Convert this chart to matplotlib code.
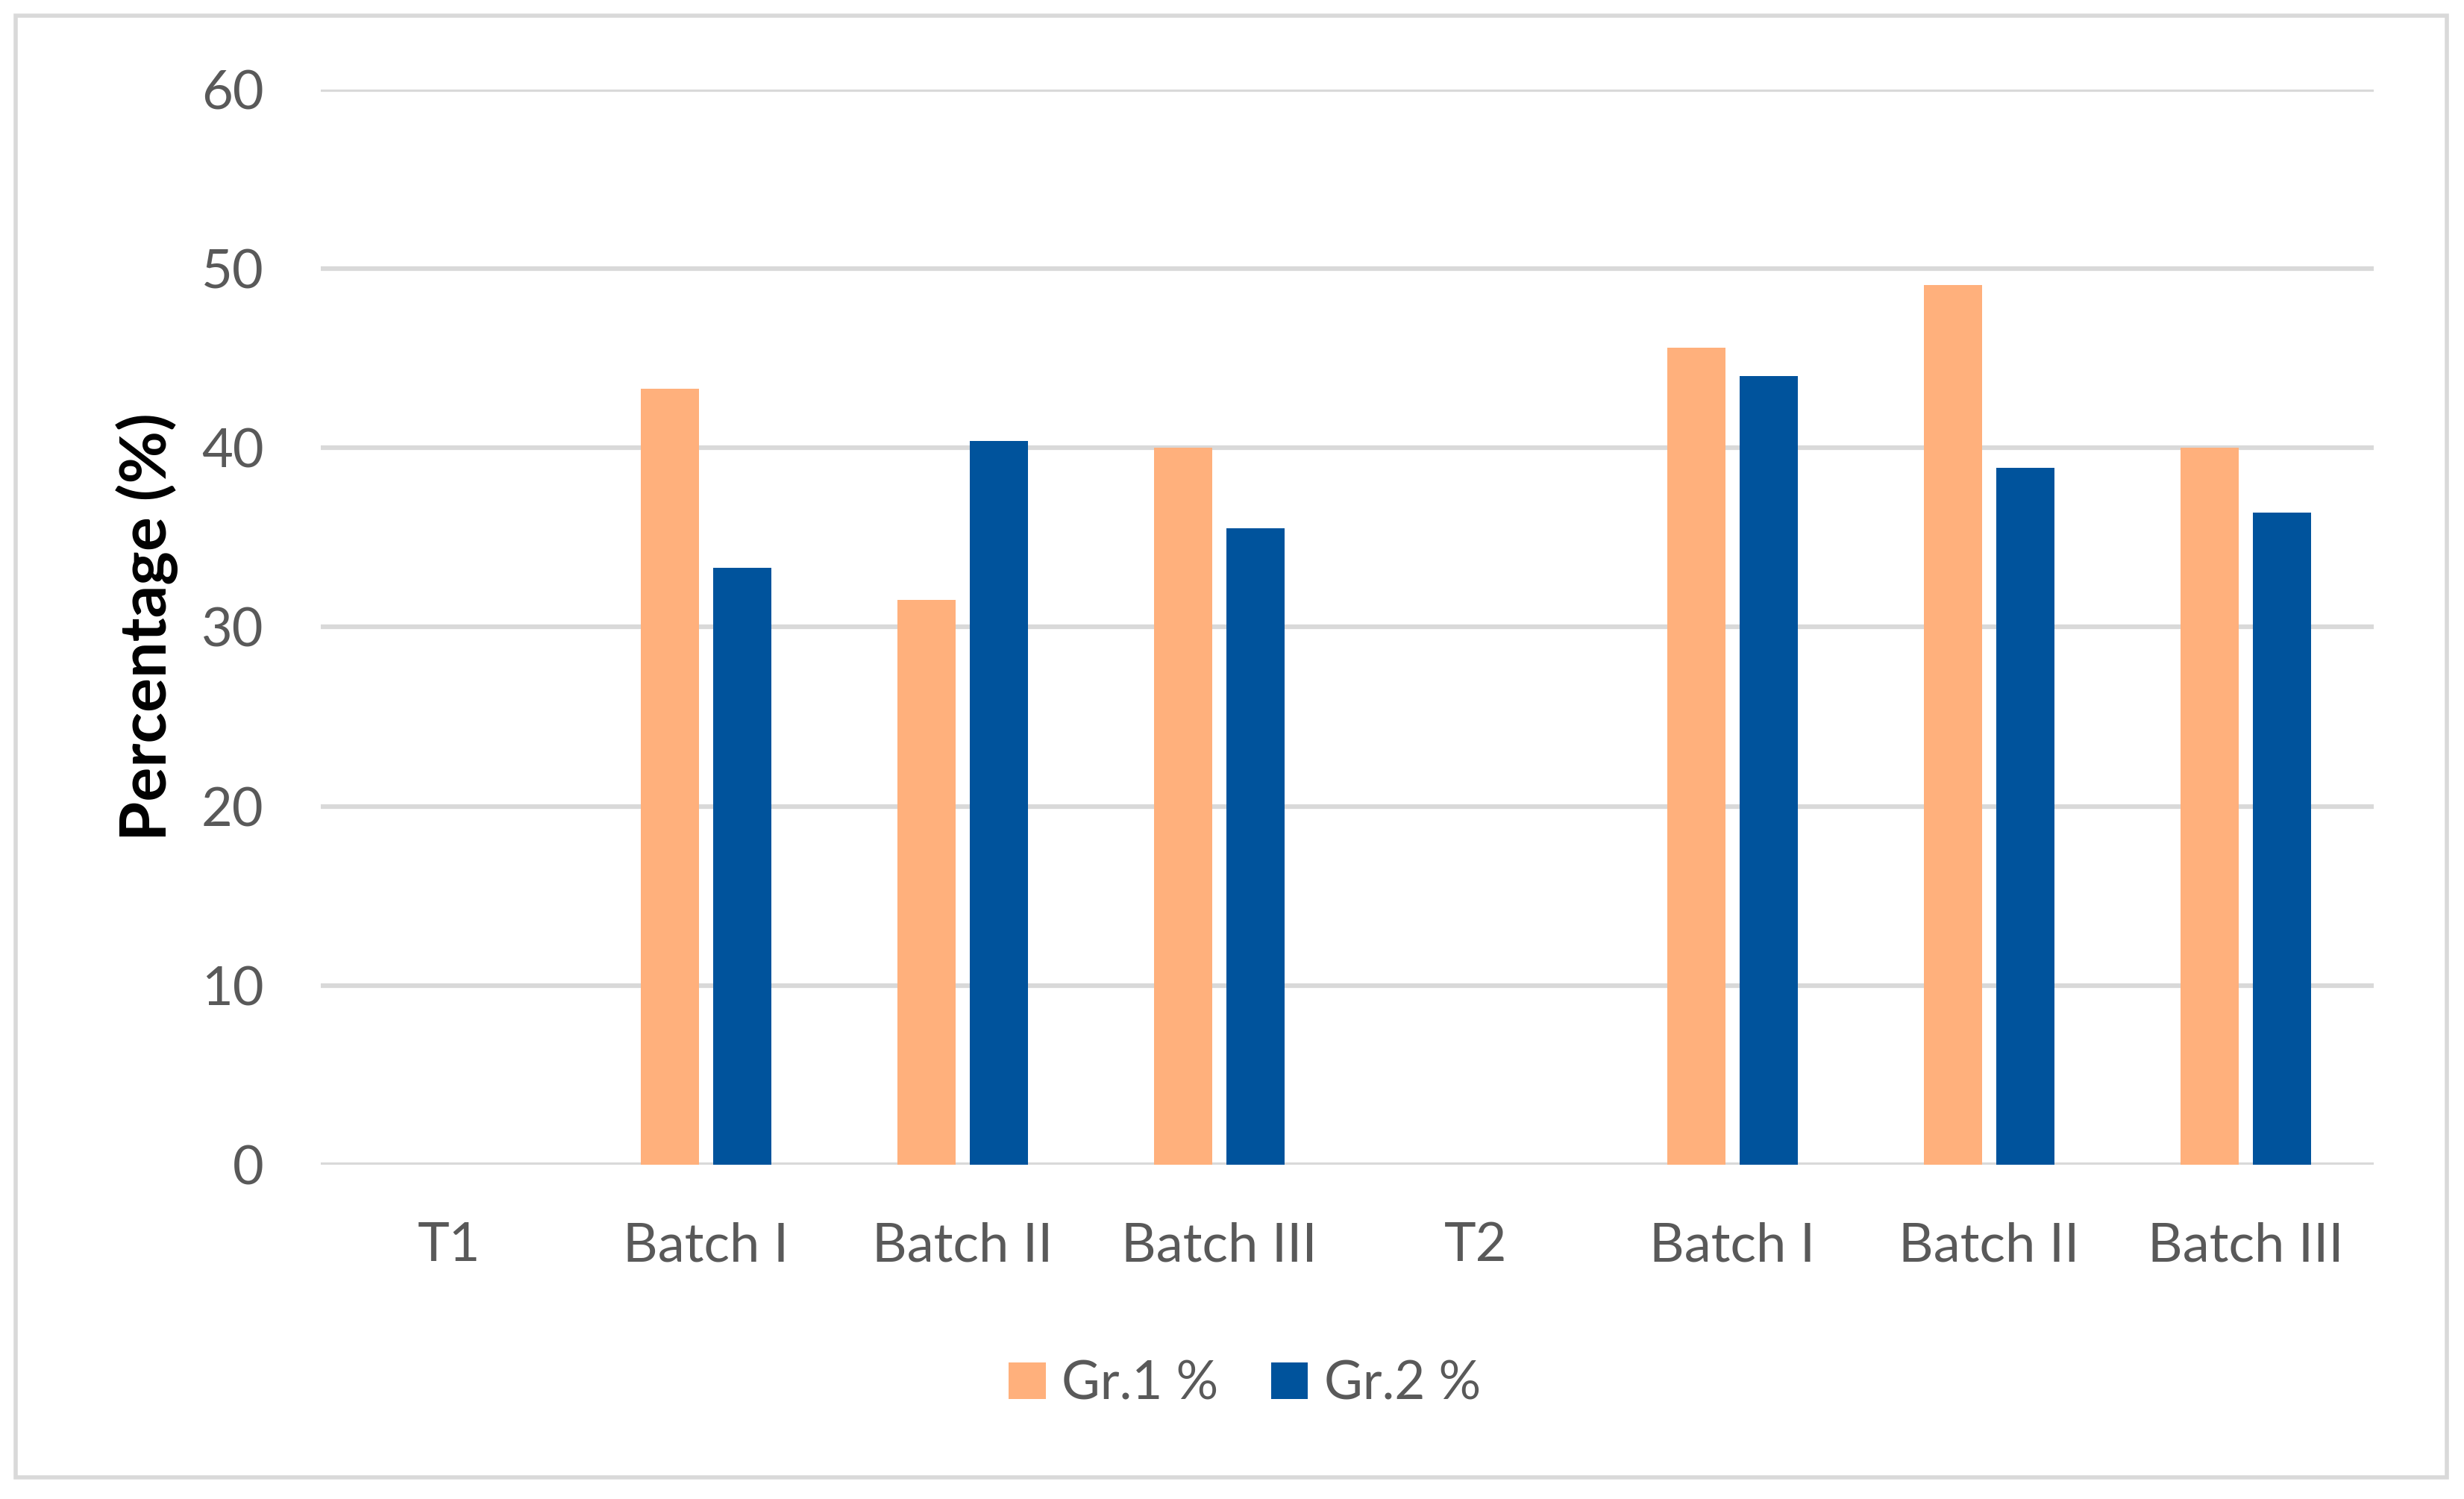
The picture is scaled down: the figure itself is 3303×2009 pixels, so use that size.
import matplotlib
matplotlib.use('Agg')
import matplotlib.pyplot as plt
from matplotlib.patches import Rectangle
import numpy as np

plt.rcParams['font.family'] = ['Lato', 'DejaVu Sans']

categories = ['T1', 'Batch I', 'Batch II', 'Batch III', 'T2', 'Batch I', 'Batch II', 'Batch III']
gr1 = [0, 43.3, 31.5, 40.0, 0, 45.6, 49.1, 40.0]
gr2 = [0, 33.3, 40.4, 35.5, 0, 44.0, 38.9, 36.4]
series_names = ['Gr.1 %', 'Gr.2 %']

c_gr1 = '#FFB07C'
c_gr2 = '#00539C'
grid_c = '#D9D9D9'
text_c = '#595959'

fig = plt.figure(figsize=(33.03, 20.09), dpi=100)
ax = fig.add_axes([0.1302, 0.2230, 0.8332, 0.7173])

x = np.arange(len(categories))
w = 0.227
off = 0.141
ax.bar(x - off, gr1, w, color=c_gr1, label=series_names[0], zorder=3)
ax.bar(x + off, gr2, w, color=c_gr2, label=series_names[1], zorder=3)

ax.set_xlim(-0.5, len(categories) - 0.5)
ax.set_ylim(0, 60)
ax.set_yticks(range(0, 61, 10))
ax.yaxis.grid(True, color=grid_c, lw=4.5, zorder=0)
ax.set_axisbelow(True)
for s in ax.spines.values():
    s.set_visible(False)
ax.tick_params(length=0)
ax.tick_params(axis='y', labelsize=52, labelcolor=text_c, pad=55)
ax.tick_params(axis='x', labelsize=52, labelcolor=text_c, pad=55)
ax.set_xticks(x)
ax.set_xticklabels(categories)
ax.set_ylabel('Percentage (%)', fontsize=62, fontweight='bold', color='black', labelpad=22)

leg = ax.legend(loc='upper center', bbox_to_anchor=(0.45, -0.137), ncol=2, frameon=False,
                fontsize=51, labelcolor=text_c, handlelength=0.7, handleheight=0.7,
                handletextpad=0.3, columnspacing=1.0)

fig.patches.append(Rectangle((21 / 3303, 1 - 1980 / 2009), 3259 / 3303, 1959 / 2009,
                             transform=fig.transFigure, fill=False, edgecolor=grid_c, lw=4))

fig.savefig('out.png', dpi=100, facecolor='white')
